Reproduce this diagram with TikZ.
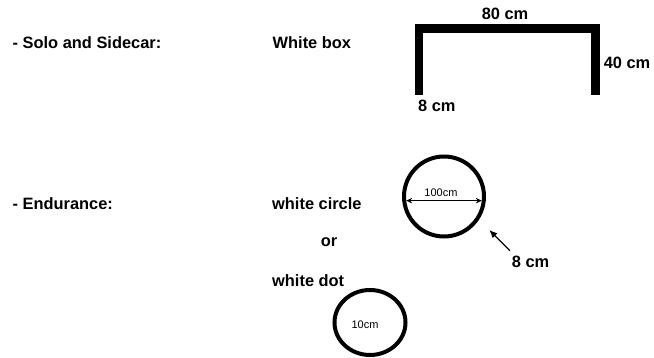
\documentclass[tikz,border=0pt]{standalone}
\usepackage{fontspec}
\setmainfont{Liberation Sans}
\usetikzlibrary{arrows.meta,shapes.geometric}
\tikzset{
  lbl/.style={anchor=base west,inner sep=0pt},
  dim/.style={anchor=base,inner sep=0pt},
  small/.style={anchor=base,inner sep=0pt,font=\mdseries\fontsize{11}{13}\selectfont},
}
\begin{document}
\begin{tikzpicture}[x=1pt,y=-1pt,font=\bfseries\fontsize{16.4}{19}\selectfont]
\useasboundingbox (0,0) rectangle (654,358);
\path
node[lbl] (solo) at (12.5,49) {- Solo and Sidecar:}
node[lbl] (wbox) at (272.5,49) {White box}
node[lbl] (endu) at (12.5,209.5) {- Endurance:}
node[lbl] (wcirc) at (272,209.5) {white circle}
node[dim] (orword) at (329,246.7) {or}
node[lbl] (wdot) at (272,286.7) {white dot};
% box of 80 by 40
\draw[line width=8.3pt,line join=miter] (419.2,95) -- (419.2,28.5) -- (595.5,28.5) -- (595.5,95);
\path
node[dim] (w80) at (505,19.5) {80 cm}
node[dim] (h40) at (627,68.5) {40 cm}
node[lbl] (t8) at (418,112) {8 cm};
% circle and dot
\node[circle,draw,line width=4pt,minimum size=80pt,inner sep=0pt,outer sep=0pt] (ring) at (444,196.5) {};
\node[ellipse,draw,line width=4pt,minimum width=71pt,minimum height=65pt,inner sep=0pt,outer sep=0pt] (spot) at (370,322.5) {};
\path
node[small] (d100) at (441,197) {100cm}
node[small] (d10) at (365,328.3) {10cm}
node[lbl] (t8b) at (511.7,267.5) {8 cm};
\coordinate (tail) at (510,250.7);
\coordinate (tip) at (489.3,230);
\draw[line width=1pt,{Stealth[length=6pt,width=5.5pt]}-{Stealth[length=6pt,width=5.5pt]},shorten <=2pt,shorten >=2pt] (ring.186) -- (ring.-6);
\draw[line width=1.3pt,-{Latex[length=8pt,width=7pt]}] (tail) -- (tip);
\end{tikzpicture}
\end{document}
